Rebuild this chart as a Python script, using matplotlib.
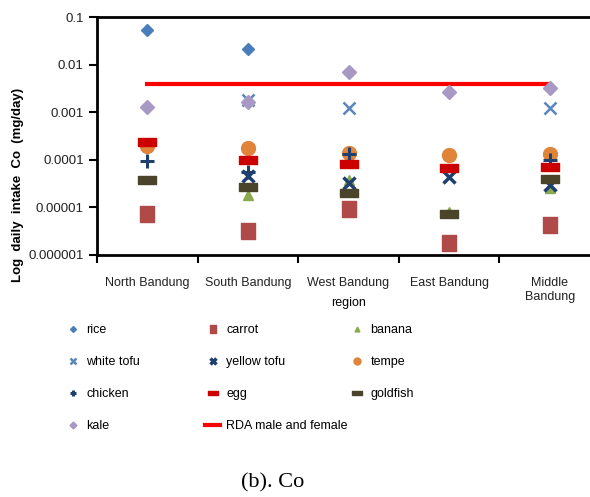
import numpy as np
import matplotlib.pyplot as plt

# regions on the x axis
regions = ['North Bandung', 'South Bandung', 'West Bandung', 'East Bandung', 'Middle\nBandung']

# daily intake of Co (mg/day) per food (nan = not shown)
rice        = [0.053,    0.0213,   np.nan,   np.nan,   np.nan]
carrot      = [0.0000073, 0.0000032, 0.0000093, 0.0000018, 0.0000042]
banana      = [np.nan,   0.0000183, 0.000038, 0.0000081, 0.000026]
white_tofu  = [np.nan,   0.00181,  0.00125,  np.nan,   0.00125]
yellow_tofu = [np.nan,   0.0000457, 0.0000324, 0.0000427, 0.0000296]
tempe       = [0.000195, 0.000177, 0.000138, 0.000126, 0.000133]
chicken     = [0.0000935, 0.000055, 0.000132, np.nan,   0.0001]
egg         = [0.000235, 0.0000975, 0.0000813, 0.000066, 0.000069]
goldfish    = [0.000038, 0.0000264, 0.00002,  0.0000073, 0.00004]
kale        = [0.0013,   0.00163,  0.0069,   0.0026,   0.0032]
rda         = [0.0039, 0.0039, 0.0039, 0.0039, 0.0039]

yticks = [0.000001, 0.00001, 0.0001, 0.001, 0.01, 0.1]
ytick_labels = ['0.000001', '0.00001', '0.0001', '0.001', '0.01', '0.1']

plt.rcParams['font.family'] = ['Liberation Sans', 'DejaVu Sans']

dash = [(-1, -0.45), (1, -0.45), (1, 0.45), (-1, 0.45), (-1, -0.45)]
rect = [(-0.8, -1), (0.8, -1), (0.8, 1), (-0.8, 1), (-0.8, -1)]

series = [
    ('rice', rice, dict(marker='D', color='#4A7EBB', ms=6)),
    ('carrot', carrot, dict(marker=rect, color='#B04A48', ms=12)),
    ('banana', banana, dict(marker='^', color='#8AAA4E', ms=7)),
    ('white tofu', white_tofu, dict(marker='x', color='#5B85BD', ms=9, mew=1.8)),
    ('yellow tofu', yellow_tofu, dict(marker='x', color='#1F3F6F', ms=8, mew=2.5)),
    ('tempe', tempe, dict(marker='o', color='#E0843A', ms=10)),
    ('chicken', chicken, dict(marker='+', color='#1F3F6F', ms=10, mew=2.2)),
    ('egg', egg, dict(marker=dash, color='#CC0000', ms=13)),
    ('goldfish', goldfish, dict(marker=dash, color='#4A452A', ms=13)),
    ('kale', kale, dict(marker='D', color='#A898C4', ms=7)),
]

fig = plt.figure(figsize=(5.9, 4.97), dpi=100)
ax = fig.add_axes([97 / 590, 1 - 255 / 497, 503 / 590, 238 / 497])

x = np.arange(len(regions)) + 0.5
handles = []
for name, vals, st in series:
    h, = ax.plot(x, vals, linestyle='none', mec=st['color'], mfc=st['color'],
                 label=name, **st)
    handles.append(h)
h, = ax.plot(x, rda, color='#FF0000', lw=3, label='RDA male and female', zorder=1)
handles.append(h)

ax.set_yscale('log')
ax.set_ylim(0.000001, 0.1)
ax.set_yticks(yticks)
ax.set_yticklabels(ytick_labels)
ax.minorticks_off()
ax.set_xlim(0, len(regions))
ax.set_xticks(np.arange(len(regions) + 1))
ax.set_xticklabels([])
ax.set_xticks(x, minor=True)
ax.set_xticklabels(regions, minor=True)
ax.tick_params(axis='x', which='minor', length=0, labelsize=9, pad=16, labelcolor='#222222')
ax.tick_params(axis='x', which='major', length=6, width=1.5, direction='out')
ax.tick_params(axis='y', length=6, width=1.5, direction='out', labelsize=9.5, labelcolor='#222222')
for s in ['left', 'bottom', 'top']:
    ax.spines[s].set_linewidth(2)
ax.spines['right'].set_visible(False)

ax.set_xlabel('region', fontsize=9, labelpad=-4)
fig.text(18 / 590, 1 - 185 / 497, 'Log  daily  intake  Co  (mg/day)', rotation=90,
         ha='center', va='center', fontsize=9.5, fontweight='bold')

# legend: one block per column, as in the figure
cols = [[0, 3, 6, 9], [1, 4, 7, 10], [2, 5, 8]]
col_x = [54, 194, 338]
for c, cx in zip(cols, col_x):
    leg = fig.legend([handles[i] for i in c], [handles[i].get_label() for i in c],
                     loc='upper left', bbox_to_anchor=(cx / 590, 1 - 313 / 497),
                     frameon=False, fontsize=9, handlelength=1.2, handletextpad=0.5,
                     labelspacing=1.6, markerscale=0.5)

fig.text(273 / 590, 1 - 483 / 497, '(b). Co', ha='center', va='center',
         fontsize=16, family=['Liberation Serif', 'DejaVu Serif'])

fig.savefig('out.png', dpi=100)
